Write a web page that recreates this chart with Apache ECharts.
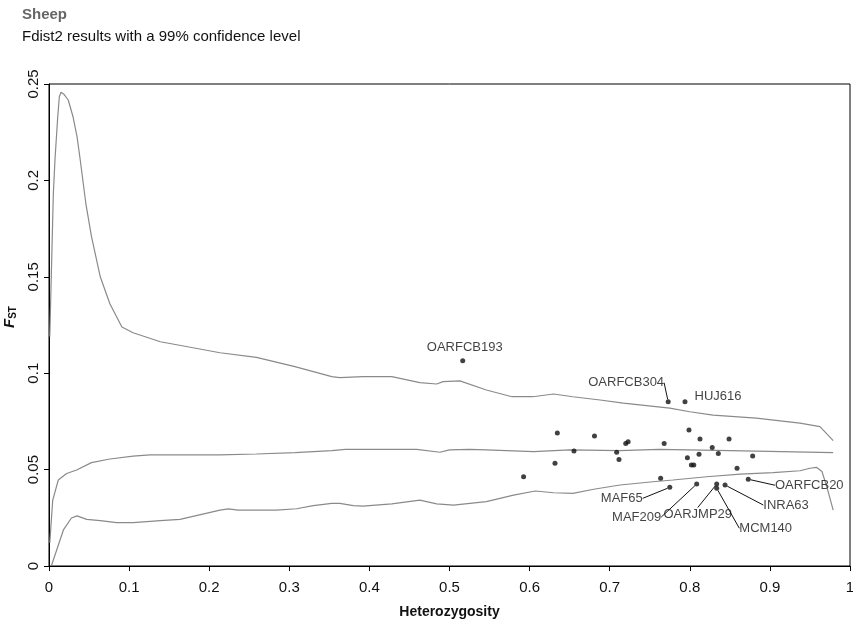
<!DOCTYPE html>
<html><head><meta charset="utf-8">
<script src="https://cdn.jsdelivr.net/npm/echarts@6/dist/echarts.min.js"></script>
<style>html,body{margin:0;padding:0;background:#fff}#c{width:853px;height:628px}</style>
</head><body><div id="c"></div>
<script>
const titleText = 'Sheep';
const subtitleText = 'Fdist2 results with a 99% confidence level';
const xTicks = [0, 0.1, 0.2, 0.3, 0.4, 0.5, 0.6, 0.7, 0.8, 0.9, 1];
const yTicks = [0, 0.05, 0.1, 0.15, 0.2, 0.25];

// Upper 99% quantile
const upperCurve = [[0.001,0.119],[0.0054,0.193],[0.0075,0.211],[0.0109,0.233],[0.0129,0.2434],[0.015,0.2457],[0.019,0.2445],[0.024,0.2417],[0.030,0.233],[0.035,0.2227],[0.039,0.2106],[0.046,0.188],[0.053,0.171],[0.064,0.150],[0.076,0.136],[0.091,0.124],[0.105,0.121],[0.139,0.1163],[0.168,0.1141],[0.2135,0.1106],[0.259,0.1082],[0.307,0.1034],[0.353,0.0982],[0.363,0.0977],[0.392,0.0982],[0.428,0.0982],[0.463,0.0951],[0.484,0.0944],[0.492,0.0956],[0.513,0.096],[0.546,0.0913],[0.578,0.0878],[0.604,0.0878],[0.63,0.0892],[0.654,0.0878],[0.688,0.0861],[0.717,0.0845],[0.775,0.0819],[0.800,0.080],[0.829,0.0783],[0.883,0.0767],[0.9375,0.0741],[0.9625,0.0723],[0.979,0.065]];
// Median
const medianCurve = [[0.001,0.012],[0.0046,0.034],[0.0116,0.0446],[0.022,0.048],[0.0345,0.0498],[0.053,0.0536],[0.076,0.0555],[0.105,0.057],[0.126,0.0576],[0.1635,0.0576],[0.2135,0.0576],[0.259,0.0581],[0.307,0.0588],[0.353,0.0598],[0.37,0.0605],[0.459,0.0605],[0.488,0.059],[0.5,0.0602],[0.525,0.0605],[0.546,0.0602],[0.605,0.0593],[0.65,0.0602],[0.712,0.0598],[0.762,0.0605],[0.85,0.0598],[0.979,0.0588]];
// Lower 99% quantile
const lowerCurve = [[0.0033,0.0005],[0.0096,0.0083],[0.018,0.0187],[0.028,0.0249],[0.035,0.026],[0.047,0.0242],[0.064,0.0235],[0.0845,0.0225],[0.105,0.0225],[0.139,0.0235],[0.1635,0.0242],[0.2135,0.029],[0.2238,0.0296],[0.236,0.029],[0.284,0.029],[0.309,0.0297],[0.33,0.0313],[0.353,0.0325],[0.363,0.0325],[0.38,0.0313],[0.392,0.0311],[0.428,0.0322],[0.463,0.0342],[0.484,0.0322],[0.505,0.0316],[0.546,0.0334],[0.58,0.0368],[0.607,0.0389],[0.63,0.038],[0.654,0.0377],[0.68,0.0398],[0.713,0.042],[0.754,0.0437],[0.779,0.0446],[0.821,0.0463],[0.863,0.0477],[0.904,0.0484],[0.9375,0.0494],[0.95,0.0507],[0.958,0.0512],[0.965,0.049],[0.971,0.0412],[0.979,0.029]];

// Loci: heterozygosity, Fst, name ('' = unlabeled)
const lociH = [0.5165,0.773,0.794,0.6346,0.681,0.720,0.723,0.768,0.799,0.8127,0.849,0.6554,0.7087,0.7116,0.6317,0.828,0.8356,0.8115,0.797,0.802,0.805,0.8785,0.859,0.7636,0.5925,0.873,0.775,0.8086,0.8336,0.8336,0.844];
const lociF = [0.1065,0.0852,0.0852,0.0690,0.0674,0.0636,0.0645,0.0636,0.0705,0.0659,0.0659,0.0596,0.0590,0.0553,0.0533,0.0614,0.0584,0.0580,0.0562,0.0524,0.0524,0.0570,0.0507,0.0455,0.0463,0.0450,0.0408,0.0425,0.0425,0.0403,0.0420];
const lociName = ['OARFCB193','OARFCB304','HUJ616','','','','','','','','','','','','','','','','','','','','','','','OARFCB20','MAF65','MAF209','OARJMP29','MCM140','INRA63'];

const labelOffsets = {
  'OARFCB193': [2, -13, false],
  'OARFCB304': [-42, -19, true],
  'HUJ616': [33, -5, false],
  'MAF65': [-48, 11, true],
  'MAF209': [-60, 33, true],
  'OARJMP29': [-19, 30, true],
  'MCM140': [49, 40, true],
  'INRA63': [61, 20, true],
  'OARFCB20': [61, 6, true]
};

const FONT = '"Liberation Sans", Arial, Helvetica, sans-serif';
const points = lociH.map((h, i) => {
  const nm = lociName[i];
  const item = { value: [h, lociF[i]], name: nm };
  if (nm) {
    item.label = { show: true, formatter: nm };
    item.labelLine = { show: labelOffsets[nm][2] };
  }
  return item;
});

const chart = echarts.init(document.getElementById('c'), null, { renderer: 'canvas' });
const curveStyle = { color: '#8a8a8a', width: 1.2 };
chart.setOption({
  animation: false,
  backgroundColor: '#fff',
  title: [
    { text: titleText, left: 17, top: 2, textStyle: { fontFamily: FONT, fontSize: 15, fontWeight: 'bold', color: '#666' } },
    { text: subtitleText, left: 17, top: 24, textStyle: { fontFamily: FONT, fontSize: 15, fontWeight: 'normal', color: '#111' } }
  ],
  grid: { left: 49, right: 3, top: 84, bottom: 62, show: true, borderColor: '#000', borderWidth: 1, containLabel: false, outerBoundsMode: 'none' },
  xAxis: {
    type: 'value', min: xTicks[0], max: xTicks[xTicks.length - 1], interval: 0.1,
    name: 'Heterozygosity', nameLocation: 'middle', nameGap: 39,
    nameTextStyle: { fontFamily: FONT, fontSize: 14, fontWeight: 'bold', color: '#111' },
    axisLine: { show: true, lineStyle: { color: '#000', width: 1 } },
    axisTick: { show: true, inside: false, length: 5, lineStyle: { color: '#000' } },
    axisLabel: { margin: 14, fontFamily: FONT, fontSize: 15, color: '#111', formatter: v => String(+v.toFixed(2)) },
    splitLine: { show: false }
  },
  yAxis: {
    type: 'value', min: yTicks[0], max: yTicks[yTicks.length - 1], interval: 0.05,
    name: '{f|F}{s|ST}', nameLocation: 'middle', nameGap: 28, nameRotate: 90,
    nameTextStyle: { padding: [0, 0, 0, 16], rich: {
      f: { fontFamily: FONT, fontSize: 15, fontWeight: 'bold', fontStyle: 'italic', color: '#111' },
      s: { fontFamily: FONT, fontSize: 10, fontWeight: 'bold', color: '#111', verticalAlign: 'bottom', padding: [6, 0, 0, 0] }
    } },
    axisLine: { show: true, lineStyle: { color: '#000', width: 1 } },
    axisTick: { show: true, inside: false, length: 5, lineStyle: { color: '#000' } },
    axisLabel: { margin: 8, rotate: 90, fontFamily: FONT, fontSize: 15, color: '#111', formatter: v => String(+v.toFixed(2)) },
    splitLine: { show: false }
  },
  series: [
    { type: 'line', data: upperCurve, showSymbol: false, symbol: 'none', lineStyle: curveStyle, silent: true, z: 2 },
    { type: 'line', data: medianCurve, showSymbol: false, symbol: 'none', lineStyle: curveStyle, silent: true, z: 2 },
    { type: 'line', data: lowerCurve, showSymbol: false, symbol: 'none', lineStyle: curveStyle, silent: true, z: 2 },
    {
      type: 'scatter', data: points, symbol: 'circle', symbolSize: 5,
      itemStyle: { color: '#111' }, z: 5,
      label: { show: false, position: 'inside', fontFamily: FONT, fontSize: 13, color: '#111', align: 'center', verticalAlign: 'middle' },
      labelLine: { show: true, lineStyle: { color: '#111', width: 1 } },
      labelLayout: function (p) {
        const nm = lociName[p.dataIndex];
        if (!nm) return {};
        const o = labelOffsets[nm];
        return { dx: o[0], dy: o[1] };
      }
    }
  ]
});
</script>
</body></html>
